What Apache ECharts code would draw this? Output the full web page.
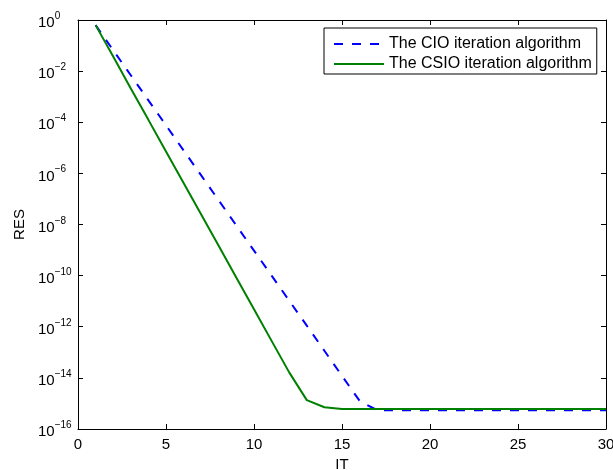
<!DOCTYPE html>
<html>
<head>
<meta charset="utf-8">
<script src="https://cdn.jsdelivr.net/npm/echarts@6/dist/echarts.min.js"></script>
<style>
  html, body { margin: 0; padding: 0; background: #fff; }
  #chart { width: 613px; height: 470px; }
</style>
</head>
<body>
<div id="chart"></div>
<script>
// ---- data ----
const iterations = [1, 2, 3, 4, 5, 6, 7, 8, 9, 10, 11, 12, 13, 14, 15,
                    16, 17, 18, 19, 20, 21, 22, 23, 24, 25, 26, 27, 28, 29, 30];
const cioRes = [6.3e-1, 6.6e-2, 6.9e-3, 7.2e-4, 7.6e-5, 7.9e-6, 8.3e-7, 8.7e-8,
                9.1e-9, 9.5e-10, 1.0e-10, 1.05e-11, 1.1e-12, 1.15e-13, 1.2e-14,
                1.26e-15, 5.4e-16, 5.4e-16, 5.4e-16, 5.4e-16, 5.4e-16, 5.4e-16,
                5.4e-16, 5.4e-16, 5.4e-16, 5.4e-16, 5.4e-16, 5.4e-16, 5.4e-16, 5.4e-16];
const csioRes = [6.3e-1, 3.7e-2, 2.1e-3, 1.24e-4, 7.2e-6, 4.2e-7, 2.45e-8, 1.43e-9,
                 8.3e-11, 4.8e-12, 2.8e-13, 1.64e-14, 1.35e-15, 7.1e-16, 6.0e-16,
                 6.0e-16, 6.0e-16, 6.0e-16, 6.0e-16, 6.0e-16, 6.0e-16, 6.0e-16,
                 6.0e-16, 6.0e-16, 6.0e-16, 6.0e-16, 6.0e-16, 6.0e-16, 6.0e-16, 6.0e-16];
const seriesNames = ['The CIO iteration algorithm', 'The CSIO iteration algorithm'];
const xTicks = [0, 5, 10, 15, 20, 25, 30];
const yExponents = [-16, -14, -12, -10, -8, -6, -4, -2, 0];

const FONT = 'Liberation Sans';
const toPairs = (xs, ys) => xs.map((x, i) => [x, ys[i]]);

const chart = echarts.init(document.getElementById('chart'), null, { renderer: 'canvas' });

const tickCommon = { show: true, inside: true, length: 5, lineStyle: { color: '#000', width: 1 } };
const lineCommon = { show: true, onZero: false, lineStyle: { color: '#000', width: 1 } };

chart.setOption({
  animation: false,
  backgroundColor: '#fff',
  textStyle: { fontFamily: FONT, color: '#000' },
  grid: { left: 78, right: 7, top: 20, bottom: 41, containLabel: false, outerBoundsMode: 'none' },
  legend: {
    orient: 'vertical',
    left: 324,
    top: 28,
    data: seriesNames,
    itemWidth: 50,
    itemHeight: 14,
    itemGap: 4,
    padding: [8, 5, 2, 9],
    borderColor: '#000',
    borderWidth: 1,
    borderRadius: 0,
    backgroundColor: '#fff',
    itemStyle: { opacity: 0 },
    textStyle: { fontFamily: FONT, fontSize: 16, color: '#000' }
  },
  xAxis: [{
    type: 'value',
    min: xTicks[0],
    max: xTicks[xTicks.length - 1],
    interval: 5,
    name: 'IT',
    nameLocation: 'middle',
    nameGap: 19,
    nameTextStyle: { fontFamily: FONT, fontSize: 15, color: '#000' },
    axisLine: lineCommon,
    axisTick: tickCommon,
    axisLabel: { fontFamily: FONT, fontSize: 15, color: '#000', margin: 8 },
    splitLine: { show: false }
  }, {
    type: 'value',
    position: 'top',
    min: xTicks[0],
    max: xTicks[xTicks.length - 1],
    interval: 5,
    axisLine: lineCommon,
    axisTick: tickCommon,
    axisLabel: { show: false },
    splitLine: { show: false }
  }],
  yAxis: [{
    type: 'log',
    logBase: 10,
    min: Math.pow(10, yExponents[0]),
    max: Math.pow(10, yExponents[yExponents.length - 1]),
    interval: 2,
    name: 'RES',
    nameLocation: 'middle',
    nameGap: 47,
    nameRotate: 90,
    nameTextStyle: { fontFamily: FONT, fontSize: 15, color: '#000' },
    axisLine: lineCommon,
    axisTick: tickCommon,
    axisLabel: {
      align: 'left',
      margin: 40,
      padding: [0, 0, 2.5, 0],
      formatter: function (v) {
        const e = Math.round(Math.log10(v));
        const es = e < 0 ? '\u2212' + (-e) : String(e);
        return '{b|10}{s|' + es + '}';
      },
      rich: {
        b: { fontFamily: FONT, fontSize: 15, color: '#000', lineHeight: 15, padding: [8.5, 0, 0, 0] },
        s: { fontFamily: FONT, fontSize: 10, color: '#000', lineHeight: 10, verticalAlign: 'top' }
      }
    },
    splitLine: { show: false }
  }, {
    type: 'log',
    logBase: 10,
    position: 'right',
    min: Math.pow(10, yExponents[0]),
    max: Math.pow(10, yExponents[yExponents.length - 1]),
    interval: 2,
    axisLine: lineCommon,
    axisTick: tickCommon,
    axisLabel: { show: false },
    splitLine: { show: false }
  }],
  series: [{
    name: seriesNames[0],
    type: 'line',
    xAxisIndex: 0,
    yAxisIndex: 0,
    data: toPairs(iterations, cioRes),
    symbol: 'none',
    lineStyle: { color: '#0000ff', width: 2, type: [9, 9], cap: 'butt' },
    itemStyle: { color: '#0000ff' },
    z: 2
  }, {
    name: seriesNames[1],
    type: 'line',
    xAxisIndex: 0,
    yAxisIndex: 0,
    data: toPairs(iterations, csioRes),
    symbol: 'none',
    lineStyle: { color: '#008000', width: 2 },
    itemStyle: { color: '#008000' },
    z: 3
  }]
});
</script>
</body>
</html>
